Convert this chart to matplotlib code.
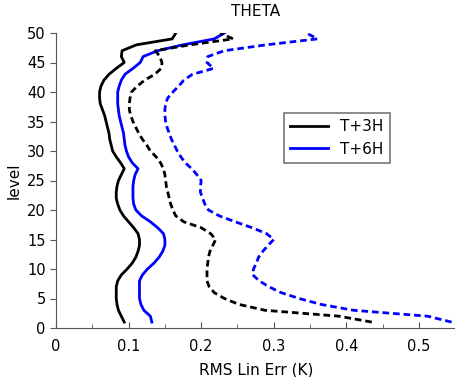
import numpy as np
import matplotlib.pyplot as plt

# niveles del modelo
niveles = list(range(1, 51))

# T+3H (experimento 1, linea continua negra)
t3h_a = [0.094, 0.090, 0.086, 0.084, 0.083, 0.083, 0.083, 0.085, 0.090, 0.098,
         0.105, 0.110, 0.113, 0.115, 0.115, 0.113, 0.107, 0.100, 0.093, 0.088,
         0.085, 0.083, 0.083, 0.084, 0.086, 0.090, 0.094, 0.089, 0.083, 0.078,
         0.076, 0.074, 0.073, 0.071, 0.069, 0.067, 0.064, 0.061, 0.060, 0.060,
         0.062, 0.066, 0.073, 0.083, 0.094, 0.090, 0.091, 0.111, 0.160, 0.165]

# T+6H (experimento 1, linea continua azul)
t6h_a = [0.132, 0.130, 0.121, 0.117, 0.115, 0.115, 0.115, 0.115, 0.119, 0.126,
         0.135, 0.142, 0.147, 0.150, 0.150, 0.148, 0.140, 0.130, 0.118, 0.110,
         0.107, 0.106, 0.106, 0.106, 0.107, 0.109, 0.113, 0.105, 0.100, 0.097,
         0.095, 0.094, 0.093, 0.091, 0.089, 0.087, 0.086, 0.085, 0.085, 0.085,
         0.087, 0.090, 0.095, 0.106, 0.116, 0.120, 0.140, 0.175, 0.218, 0.232]

# T+3H (experimento 2, linea discontinua negra)
t3h_b = [0.435, 0.390, 0.288, 0.252, 0.232, 0.218, 0.211, 0.208, 0.208, 0.208,
         0.209, 0.210, 0.212, 0.216, 0.220, 0.213, 0.200, 0.176, 0.165, 0.161,
         0.158, 0.156, 0.154, 0.152, 0.151, 0.150, 0.148, 0.144, 0.138, 0.130,
         0.125, 0.119, 0.114, 0.110, 0.106, 0.103, 0.101, 0.101, 0.102, 0.104,
         0.112, 0.122, 0.136, 0.145, 0.146, 0.143, 0.137, 0.185, 0.244, 0.226]

# T+6H (experimento 2, linea discontinua azul)
t6h_b = [0.545, 0.512, 0.410, 0.365, 0.335, 0.310, 0.293, 0.280, 0.271, 0.272,
         0.276, 0.279, 0.285, 0.292, 0.300, 0.290, 0.270, 0.247, 0.225, 0.210,
         0.205, 0.202, 0.199, 0.199, 0.200, 0.194, 0.187, 0.178, 0.172, 0.167,
         0.163, 0.159, 0.156, 0.153, 0.151, 0.150, 0.150, 0.151, 0.154, 0.161,
         0.169, 0.176, 0.188, 0.217, 0.208, 0.209, 0.232, 0.290, 0.360, 0.345]

fig = plt.figure(figsize=(4.56, 3.77), dpi=100)
ax = fig.add_axes([56/456, 49/377, 400/456, 295/377])

guion = (0, (2.4, 1.4))
ax.plot(t3h_a, niveles, color='black', lw=2, label='T+3H')
ax.plot(t6h_a, niveles, color='blue', lw=2, label='T+6H')
ax.plot(t3h_b, niveles, color='black', lw=2, ls=guion)
ax.plot(t6h_b, niveles, color='blue', lw=2, ls=guion)

ax.set_xlim(0, 0.551)
ax.set_ylim(0, 50)
ax.set_xticks([0, 0.1, 0.2, 0.3, 0.4, 0.5])
ax.set_xticklabels(['0', '0.1', '0.2', '0.3', '0.4', '0.5'])
ax.set_xticks(np.arange(0.05, 0.55, 0.1), minor=True)
ax.set_yticks(range(0, 51, 5))

for lado in ['top', 'right']:
    ax.spines[lado].set_visible(False)
for lado in ['left', 'bottom']:
    ax.spines[lado].set_color('#555555')

ax.tick_params(axis='x', direction='in', length=4, color='#555555', labelsize=10.5, pad=8)
ax.tick_params(axis='x', which='minor', direction='in', length=3, color='#555555')
ax.tick_params(axis='y', direction='out', length=4, color='#555555', labelsize=10.5)

ax.set_title('THETA', fontsize=11, pad=12)
ax.set_xlabel('RMS Lin Err (K)', fontsize=11, labelpad=6)
ax.set_ylabel('level', fontsize=11)

ley = ax.legend(loc='upper left', bbox_to_anchor=(0.55, 0.755), fancybox=False,
                edgecolor='#555555', fontsize=11, handlelength=2.5)
ley.get_frame().set_linewidth(1.2)

fig.savefig('out.png', dpi=100)
